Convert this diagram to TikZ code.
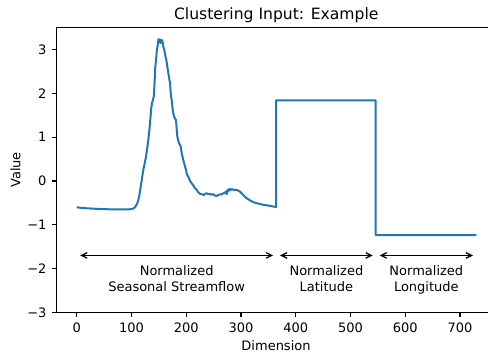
\documentclass[tikz,border=0pt]{standalone}
\usepackage{fontspec}
\setmainfont{DejaVu Sans}
\usetikzlibrary{arrows.meta}
\definecolor{tabblue}{HTML}{1F77B4}
\begin{document}
\begin{tikzpicture}[x=0.5476pt,y=43.8pt,
  every node/.style={font=\fontsize{13}{15.6}\selectfont, inner sep=0pt},
  spine/.style={line width=1.05pt},
  tickmark/.style={line width=1.05pt},
  series/.style={tabblue, line width=2pt, line join=round},
  span/.style={line width=1.3pt,
    {Straight Barb[length=5.5pt,width=5.5pt]}-{Straight Barb[length=5.5pt,width=5.5pt]},
    shorten <=3.5pt, shorten >=3.5pt},
  seglabel/.style={align=center, anchor=north}]
\useasboundingbox (-140.07,-4.041) rectangle (751.1,4.1324);

% axes frame (right spine lies outside the picture)
\draw[spine] (751.1,3.5) -- (-36.5,3.5) -- (-36.5,-3) -- (751.1,-3);

% y ticks
\foreach \v/\t in {-3/−3,-2/−2,-1/−1,0/0,1/1,2/2,3/3}{
  \draw[tickmark] (-36.5,\v) -- ++(-4.5pt,0);
  \node[anchor=east] (yt\v) at ([xshift=-10pt]-36.5,\v) {\t};
}
% x ticks
\foreach \x in {0,100,...,700}{
  \draw[tickmark] (\x,-3) -- ++(0,-4.5pt);
  \node[anchor=base] (xt\x) at ([yshift=-20.3pt]\x,-3) {\x};
}

% data series
\draw[series] (0,-0.600) -- (6,-0.610) -- (15,-0.620) -- (30,-0.632) -- (45,-0.640) -- (60,-0.646) -- (80,-0.648) -- (97,-0.646) -- (103,-0.630) -- (106.5,-0.600) -- (110.7,-0.510) -- (114,-0.36) -- (116.9,-0.13) -- (121.6,0.25) -- (126.6,0.555) -- (130.8,0.936) -- (133,1.2) -- (135.1,1.5) -- (136,1.65) -- (137.5,1.78) -- (139.5,1.86) -- (141,1.95) -- (142.4,2.306) -- (143.5,2.6) -- (144.8,2.763) -- (146.5,3.0) -- (148,3.1) -- (149.5,3.24) -- (150.8,3.20) -- (152,3.23) -- (153,3.15) -- (154.5,3.22) -- (156.3,3.21) -- (158,3.08) -- (160,2.99) -- (162,2.85) -- (163.5,2.78) -- (165.5,2.61) -- (167.5,2.45) -- (170.4,2.23) -- (172,1.95) -- (173.5,1.85) -- (175,1.66) -- (176.4,1.546) -- (178.5,1.45) -- (181.3,1.393) -- (182.5,1.2) -- (183.7,1.011) -- (186.5,0.88) -- (189.9,0.783) -- (192,0.62) -- (194.7,0.479) -- (197,0.37) -- (199.6,0.251) -- (201.5,0.14) -- (203.8,0.098) -- (207,0.0) -- (210,-0.053) -- (213,-0.1) -- (216,-0.167) -- (219,-0.2) -- (222.1,-0.258) -- (225,-0.29) -- (228.3,-0.304) -- (230.5,-0.31) -- (232.5,-0.32) -- (235,-0.29) -- (237.4,-0.281) -- (240,-0.3) -- (243.4,-0.297) -- (246,-0.31) -- (249.5,-0.304) -- (252,-0.33) -- (255.7,-0.342) -- (258.5,-0.32) -- (261.7,-0.304) -- (264,-0.31) -- (267.7,-0.281) -- (270,-0.27) -- (272.6,-0.244) -- (274,-0.3) -- (275.5,-0.2) -- (277,-0.23) -- (279,-0.18) -- (281,-0.21) -- (283,-0.183) -- (286,-0.2) -- (289.1,-0.205) -- (292,-0.2) -- (295.1,-0.221) -- (298,-0.24) -- (301.3,-0.281) -- (304,-0.32) -- (307.3,-0.358) -- (310,-0.39) -- (313.4,-0.418) -- (316,-0.44) -- (319.6,-0.463) -- (322,-0.48) -- (325.6,-0.495) -- (330,-0.51) -- (334.7,-0.525) -- (340,-0.54) -- (347,-0.555) -- (355,-0.572) -- (364,-0.594) -- (364,1.842) -- (546,1.842) -- (546,-1.233) -- (730,-1.233);

% span markers
\coordinate (s0) at (0,-1.7);
\coordinate (s1) at (365,-1.7);
\coordinate (s2) at (547,-1.7);
\coordinate (s3) at (730,-1.7);
\draw[span] (s0) -- (s1);
\draw[span] (s1) -- (s2);
\draw[span] (s2) -- (s3);

\node[seglabel] (l1) at (182.5,-1.934) {Normalized\\Seasonal Streamflow};
\node[seglabel] (l2) at (456,-1.934) {Normalized\\Latitude};
\node[seglabel] (l3) at (638.5,-1.934) {Normalized\\Longitude};

% labels and title
\node (xlab) at (364,-3.765) {Dimension};
\node[rotate=90] (ylab) at (-111.9,0.251) {Value};
\node[anchor=base, font=\fontsize{15.6}{18}\selectfont] (title) at (364.5,3.692) {Clustering Input: Example};
\end{tikzpicture}
\end{document}
